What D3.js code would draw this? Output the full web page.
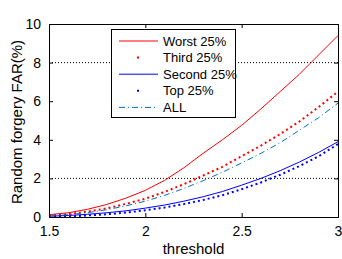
<!DOCTYPE html>
<html>
<head>
<meta charset="UTF-8">
<title>FAR</title>
<script src="https://d3js.org/d3.v7.min.js"></script>
<style>
  body { margin: 0; background: #fff; }
  text { font-family: "Liberation Sans", Arial, sans-serif; }
</style>
</head>
<body>
<div id="chart"></div>
<script>
const thresholds = [1.5, 1.6, 1.7, 1.8, 1.9, 2.0, 2.1, 2.2, 2.3, 2.4, 2.5, 2.6, 2.7, 2.8, 2.9, 3.0];
const worst  = [0.12, 0.22, 0.40, 0.65, 0.98, 1.38, 1.90, 2.55, 3.30, 4.00, 4.75, 5.60, 6.50, 7.40, 8.40, 9.40];
const third  = [0.08, 0.15, 0.28, 0.45, 0.68, 0.95, 1.30, 1.70, 2.15, 2.60, 3.15, 3.70, 4.30, 4.95, 5.70, 6.50];
const second = [0.04, 0.08, 0.14, 0.22, 0.32, 0.46, 0.62, 0.82, 1.05, 1.32, 1.65, 2.00, 2.40, 2.85, 3.35, 3.90];
const top25  = [0.01, 0.03, 0.08, 0.14, 0.23, 0.35, 0.49, 0.67, 0.88, 1.13, 1.44, 1.79, 2.19, 2.64, 3.15, 3.78];
const all    = [0.05, 0.12, 0.22, 0.38, 0.58, 0.82, 1.12, 1.48, 1.88, 2.32, 2.80, 3.30, 3.85, 4.50, 5.15, 5.90];
const xTicks = [1.5, 2, 2.5, 3];
const yTicks = [0, 2, 4, 6, 8, 10];
const gridY = [2, 8];

const series = [
  { name: "Worst 25%",  values: worst,  color: "#ff0000", dash: null,      width: 1 },
  { name: "Third 25%",  values: third,  color: "#ff0000", dash: "2,3",     width: 2 },
  { name: "Second 25%", values: second, color: "#0000ff", dash: null,      width: 1 },
  { name: "Top 25%",    values: top25,  color: "#0000ff", dash: "2,3",     width: 2 },
  { name: "ALL",        values: all,    color: "#0072bd", dash: "6,3,1,3", width: 1 }
];

const W = 342, H = 259;
const m = { left: 49, right: 4, top: 24, bottom: 42 };

const svg = d3.select("#chart").append("svg")
  .attr("width", W).attr("height", H);

const x = d3.scaleLinear().domain([1.5, 3]).range([m.left, W - m.right]);
const y = d3.scaleLinear().domain([0, 10]).range([H - m.bottom, m.top]);

// dotted grid at 2 and 8
svg.append("g").selectAll("line").data(gridY).join("line")
  .attr("x1", x(1.5)).attr("x2", x(3))
  .attr("y1", d => y(d)).attr("y2", d => y(d))
  .attr("stroke", "#000").attr("stroke-width", 1)
  .attr("stroke-dasharray", "1,2");

const line = d3.line().x((d, i) => x(thresholds[i])).y(d => y(d));

svg.append("g").selectAll("path").data(series).join("path")
  .attr("d", d => line(d.values))
  .attr("fill", "none")
  .attr("stroke", d => d.color)
  .attr("stroke-width", d => d.width)
  .attr("stroke-dasharray", d => d.dash);

// axes with inward ticks
const ax = svg.append("g").attr("transform", `translate(0,${y(0)})`)
  .call(d3.axisBottom(x).tickValues(xTicks).tickSize(-4).tickPadding(9).tickFormat(d3.format("")));
const axTop = svg.append("g").attr("transform", `translate(0,${y(10)})`)
  .call(d3.axisTop(x).tickValues(xTicks).tickSize(-4).tickFormat(""));
const ay = svg.append("g").attr("transform", `translate(${x(1.5)},0)`)
  .call(d3.axisLeft(y).tickValues(yTicks).tickSize(-4).tickPadding(8));
const ayR = svg.append("g").attr("transform", `translate(${x(3)},0)`)
  .call(d3.axisRight(y).tickValues(yTicks).tickSize(-4).tickFormat(""));

[ax, axTop, ay, ayR].forEach(g => {
  g.select(".domain").attr("stroke", "#000");
  g.selectAll(".tick line").attr("stroke", "#000");
  g.selectAll(".tick text").attr("font-size", 14).attr("fill", "#000")
    .attr("font-family", "Liberation Sans, Arial, sans-serif");
});

svg.append("text")
  .attr("x", (x(1.5) + x(3)) / 2).attr("y", 254)
  .attr("text-anchor", "middle").attr("font-size", 15)
  .text("threshold");

svg.append("text")
  .attr("transform", `translate(22,122) rotate(-90)`)
  .attr("text-anchor", "middle").attr("font-size", 15)
  .text("Random forgery FAR(%)");

// legend
const lg = svg.append("g");
lg.append("rect")
  .attr("x", 111.5).attr("y", 29.5).attr("width", 124).attr("height", 88)
  .attr("fill", "#fff").attr("stroke", "#000");
const item = lg.selectAll("g.item").data(series).join("g")
  .attr("class", "item")
  .attr("transform", (d, i) => `translate(0,${41 + i * 16.6})`);
item.append("line")
  .attr("x1", d => d.dash && d.width > 1 ? 137 : 119)
  .attr("x2", d => d.dash && d.width > 1 ? 139 : 158)
  .attr("stroke", d => d.color)
  .attr("stroke-width", d => d.width)
  .attr("stroke-dasharray", d => d.width > 1 ? null : d.dash);
item.append("text")
  .attr("x", 163).attr("y", 4.5)
  .attr("font-size", 13)
  .text(d => d.name);
</script>
</body>
</html>
